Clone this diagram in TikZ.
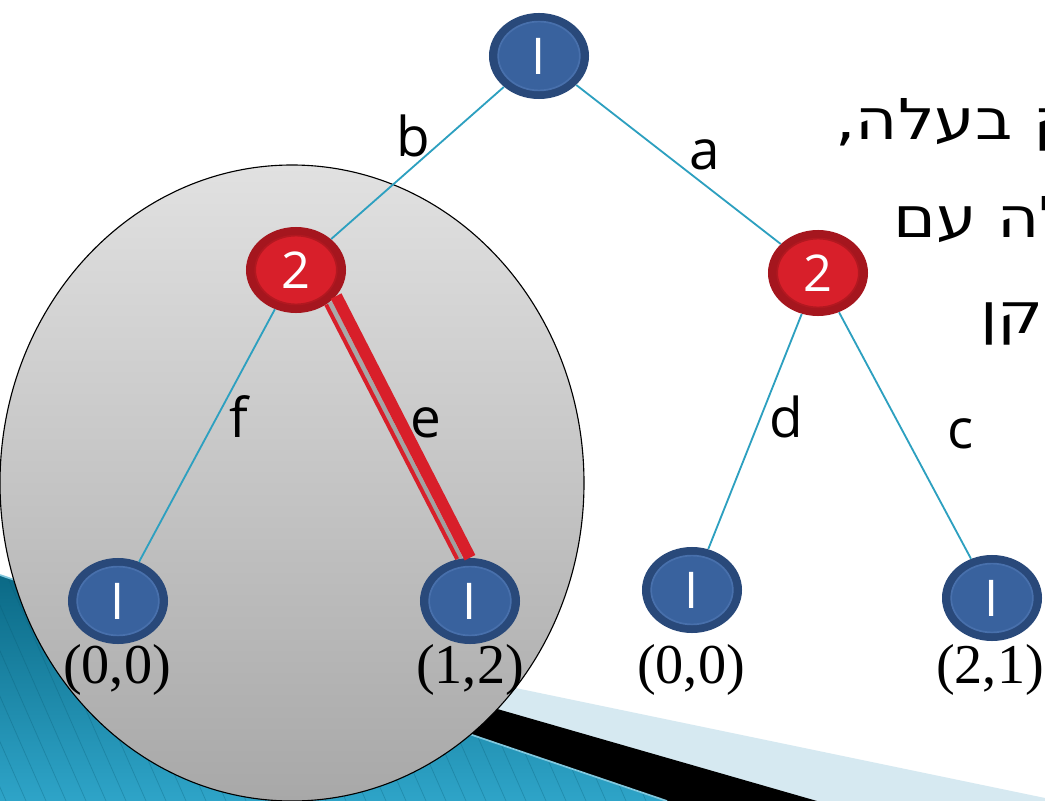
\documentclass[tikz,border=0pt]{standalone}
\usepackage{fontspec}
\setmainfont{Liberation Serif}
\newfontfamily\labfont{Open Sans}
\newfontfamily\hebfont[Script=Hebrew]{DejaVu Sans}
\TeXXeTstate=1
\usepackage{tikz}
\usetikzlibrary{shapes.geometric}
\definecolor{branchcol}{RGB}{45,160,192}
\definecolor{blueout}{RGB}{41,73,122}
\definecolor{bluein}{RGB}{57,98,158}
\definecolor{bluering}{RGB}{72,112,172}
\definecolor{redout}{RGB}{165,22,30}
\definecolor{redin}{RGB}{216,31,42}
\definecolor{redring}{RGB}{178,24,32}
\definecolor{tealdark}{RGB}{10,104,132}
\definecolor{teallight}{RGB}{46,164,200}
\definecolor{tealline}{RGB}{8,88,112}
\definecolor{paleband}{RGB}{214,233,241}
\definecolor{subtop}{RGB}{225,225,225}
\definecolor{subbot}{RGB}{168,168,168}
\newcommand{\hebtext}[1]{\scalebox{1.15}[1]{\beginR #1\endR}}
\tikzset{
  movenode/.style={
    ellipse, minimum width=2.5cm, minimum height=2.15cm, inner sep=0pt,
    text=white, font=\labfont\fontsize{36}{40}\selectfont
  },
  pone/.style={
    movenode, fill=blueout,
    path picture={\fill[bluein, draw=bluering, line width=1.2pt]
      (path picture bounding box.center) ellipse (1.02cm and 0.86cm);}
  },
  ptwo/.style={
    movenode, fill=redout,
    path picture={\fill[redin, draw=redring, line width=1.2pt]
      (path picture bounding box.center) ellipse (1.02cm and 0.86cm);}
  },
  branch/.style={branchcol, line width=1.3pt},
  eqbar/.style={redin, line width=8.5pt},
  eqthin/.style={redin, line width=2.8pt},
  eqshadow/.style={black!50, line width=4pt, opacity=0.5},
  movelabel/.style={font=\labfont\fontsize{39}{44}\selectfont, inner sep=0pt, anchor=base},
  payoff/.style={font=\fontsize{40}{46}\selectfont, inner sep=0pt, anchor=base},
  hebline/.style={font=\hebfont\fontsize{40}{46}\selectfont, inner sep=0pt, anchor=base west},
}

\begin{document}
\begin{tikzpicture}[x=0.025cm, y=-0.025cm]
  \useasboundingbox (0,0) rectangle (1045,801);
  \clip (0,0) rectangle (1045,801);
  \fill[white] (0,0) rectangle (1045,801);

  % ── Slide decoration (bottom left) ─────────────────────────────
  \fill[paleband] (400,664) -- (1045,798) -- (1045,801) -- (400,801) -- cycle;
  \fill[black] (400,681) -- (817,801) -- (400,801) -- cycle;
  \begin{scope}
    \clip (0,575) -- (667,801) -- (0,801) -- cycle;
    \shade[top color=tealdark, bottom color=teallight] (0,570) rectangle (700,801);
    \foreach \s in {-320,-300,...,700} {
      \draw[tealline, line width=0.5pt, opacity=0.3] (\s,560) -- ++(110,250);
    }
  \end{scope}
  \draw[teallight!60!white, line width=1.2pt] (0,575) -- (667,801);

  % ── Subgame ────────────────────────────────────────────────────
  \shade[top color=subtop, bottom color=subbot, draw=black, line width=0.8pt]
    (292,483) ellipse (292 and 318);

  % ── Decision nodes ─────────────────────────────────────────────
  \node[pone] (root) at (539,56) {I};
  \node[ptwo] (twoL) at (296,270) {2};
  \node[ptwo] (twoR) at (818,273) {2};

  % Leaves
  \node[pone] (leafA) at (118,601) {I};
  \node[pone] (leafB) at (470,601) {I};
  \node[pone] (leafC) at (692,590) {I};
  \node[pone] (leafD) at (992,598) {I};

  % ── Branches ───────────────────────────────────────────────────
  \draw[branch] (root) -- (twoL);
  \draw[branch] (root) -- (twoR);
  \draw[branch] (twoL) -- (leafA);
  \draw[branch] (twoR) -- (leafC);
  \draw[branch] (twoR) -- (leafD);

  % Equilibrium move e
  \draw[eqshadow] (twoL.-44) -- (leafB.103);
  \draw[eqthin] (twoL.-49) -- (leafB.107);
  \draw[eqbar] (twoL.-33) -- (leafB.90);

  % ── Move labels ────────────────────────────────────────────────
  \node[movelabel] (labB) at (413,157) {b};
  \node[movelabel] (labA) at (705,170) {a};
  \node[movelabel] (labF) at (239,437) {f};
  \node[movelabel] (labE) at (426,437) {e};
  \node[movelabel] (labD) at (786,437) {d};
  \node[movelabel] (labC) at (961,448) {c};

  % ── Payoffs ────────────────────────────────────────────────────
  \node[payoff] (payA) at (117,683) {(0,0)};
  \node[payoff] (payB) at (470,683) {(1,2)};
  \node[payoff] (payC) at (691,683) {(0,0)};
  \node[payoff] (payD) at (990,683) {(2,1)};

  % ── Slide text (cut off at the right) ──────────────────────────
  \node[hebline] (txtA) at (835,140) {\hebtext{ק בעלה,}};
  \node[hebline] (txtB) at (893,237) {\hebtext{לה עם}};
  \node[hebline] (txtC) at (980,333) {\hebtext{חקן}};
\end{tikzpicture}
\end{document}
